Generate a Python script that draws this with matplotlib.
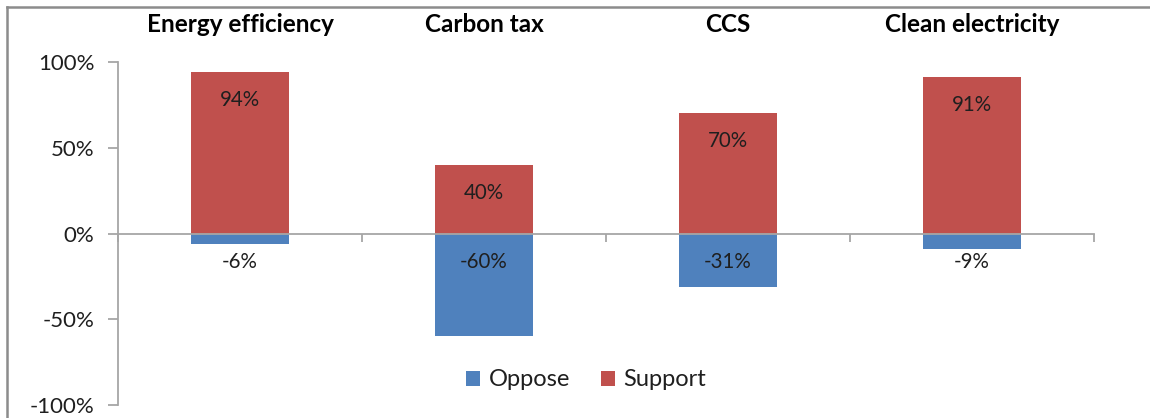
import matplotlib
matplotlib.use("Agg")
import matplotlib.pyplot as plt
import matplotlib.transforms as mtransforms
from matplotlib.patches import Patch
from matplotlib.lines import Line2D
from matplotlib.ticker import FuncFormatter

plt.rcParams['font.family'] = ['Lato', 'DejaVu Sans']

categories = ["Energy efficiency", "Carbon tax", "CCS", "Clean electricity"]
support = [94, 40, 70, 91]
oppose = [-6, -60, -31, -9]

blue = "#4F81BD"
red = "#C0504D"
axis_gray = "#A6A6A6"
text_col = "#1F1F1F"

W, H = 1150, 418
fig = plt.figure(figsize=(W / 100, H / 100), dpi=100)
ax = fig.add_axes([118 / W, 1 - 405 / H, (1094 - 118) / W, (405 - 62) / H])

x = list(range(len(categories)))
bw = 0.4
ax.bar(x, oppose, width=bw, color=blue, zorder=2)
ax.bar(x, support, width=bw, color=red, zorder=2)

ax.set_xlim(-0.5, len(categories) - 0.5)
ax.set_ylim(-100, 100)

# value labels: support inside the top end, oppose just under the baseline
for xi, s, o in zip(x, support, oppose):
    ax.annotate(f"{s}%", xy=(xi, s), xytext=(0, -20), textcoords="offset points",
                ha="center", va="center", fontsize=14.8, color=text_col, zorder=3)
    ax.annotate(f"{o}%", xy=(xi, 0), xytext=(0, -20.5), textcoords="offset points",
                ha="center", va="center", fontsize=14.8, color=text_col, zorder=3)

# category names along the top
top_tr = mtransforms.blended_transform_factory(ax.transData, fig.transFigure)
for xi, name in zip(x, categories):
    ax.text(xi, 1 - 25 / H, name, transform=top_tr,
            ha="center", va="center", fontsize=17.5, fontweight="bold", color="#000000")

# axes styling
for side in ("top", "right"):
    ax.spines[side].set_visible(False)
ax.spines["left"].set_color(axis_gray)
ax.spines["left"].set_linewidth(1.3)
ax.spines["bottom"].set_position(("data", 0))
ax.spines["bottom"].set_color(axis_gray)
ax.spines["bottom"].set_linewidth(1.3)
ax.spines["bottom"].set_zorder(4)

ax.set_yticks([-100, -50, 0, 50, 100])
ax.yaxis.set_major_formatter(FuncFormatter(lambda v, p: f"{int(v)}%"))
ax.tick_params(axis="y", direction="out", length=7, width=1.3, color=axis_gray,
               labelsize=16, labelcolor=text_col, pad=10)
ax.set_xticks([i - 0.5 for i in range(len(categories) + 1)])
ax.set_xticklabels([])
ax.tick_params(axis="x", direction="out", length=5.5, width=1.3, color=axis_gray)

# legend
handles = [Patch(facecolor=blue, edgecolor="none", label="Oppose"),
           Patch(facecolor=red, edgecolor="none", label="Support")]
fig.legend(handles=handles, loc="center", bbox_to_anchor=(586 / W, 1 - 380 / H),
           ncol=2, frameon=False, fontsize=17, handlelength=0.6, handleheight=0.6,
           handletextpad=0.35, columnspacing=1.3, labelcolor=text_col)

# chart-area frame (top and left edges)
frame_col = "#8C8C8C"
fig.add_artist(Line2D([7 / W, 1], [1 - 7 / H, 1 - 7 / H], transform=fig.transFigure,
                      color=frame_col, linewidth=1.8))
fig.add_artist(Line2D([7 / W, 7 / W], [0, 1 - 7 / H], transform=fig.transFigure,
                      color=frame_col, linewidth=1.8))

fig.savefig("out.png", dpi=100, facecolor="white")
